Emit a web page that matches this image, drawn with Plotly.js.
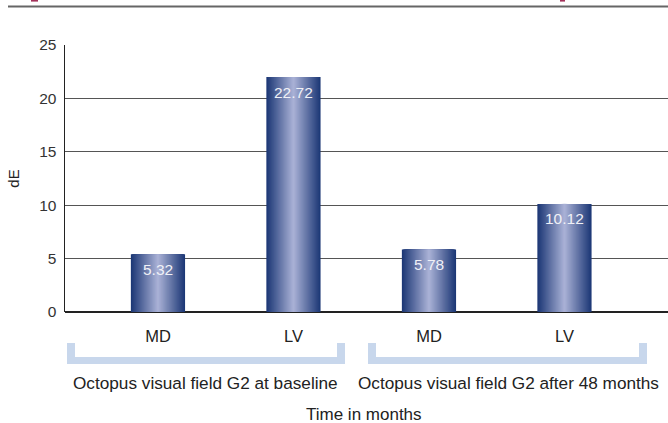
<!DOCTYPE html>
<html>
<head>
<meta charset="utf-8">
<script src="https://cdn.plot.ly/plotly-3.0.1.min.js"></script>
<style>
html,body{margin:0;padding:0;background:#fff;}
#chart{width:668px;height:423px;}
</style>
</head>
<body>
<div id="chart"></div>
<script>
// ---- data ----
const categories = ['MD', 'LV', 'MD', 'LV'];
const values = [5.4, 22.0, 5.85, 10.12];          // bar heights as drawn in the picture
const valueLabels = ['5.32', '22.72', '5.78', '10.12'];
const groupLabels = ['Octopus visual field G2 at baseline', 'Octopus visual field G2 after 48 months'];
const yTicks = [0, 5, 10, 15, 20, 25];
const yTitle = 'dE';
const xTitle = 'Time in months';

// ---- layout constants ----
const W = 668, H = 423;
const M = {l: 65, r: 0, t: 45, b: 111};
const plotW = W - M.l - M.r, plotH = H - M.t - M.b;
const px = x => (x - M.l) / plotW;
const py = y => (H - M.b - y) / plotH;
const FONT = 'Liberation Sans, Arial, sans-serif';

const xs = categories.map((c, i) => i);
const barW = 0.4;

// gradient simulated by overlaid bars of decreasing width
const edge = [29, 56, 118], centre = [168, 176, 213];
const N = 27;
const traces = [];
for (let i = 0; i < N; i++) {
  const t = i / (N - 1);
  const c = edge.map((e, k) => Math.round(e + (centre[k] - e) * t));
  traces.push({
    type: 'bar', x: xs, y: values,
    width: barW * (N - i) / N,
    marker: {color: `rgb(${c[0]},${c[1]},${c[2]})`, line: {width: 0}},
    hoverinfo: 'skip', showlegend: false
  });
}

const bracketColor = '#c8d7ec';
function bracket(x0, x1) {
  const top = 343, bot = 364, th = 7, vw = 8;
  const r = (a, b, c, d) => ({type: 'rect', xref: 'paper', yref: 'paper',
    x0: px(a), x1: px(b), y0: py(d), y1: py(c), fillcolor: bracketColor, line: {width: 0}, layer: 'above'});
  return [r(x0, x0 + vw, top, bot), r(x1 - vw, x1, top, bot), r(x0, x1, bot - th, bot)];
}

const shapes = [
  ...bracket(67, 345), ...bracket(368, 647),
  {type: 'line', xref: 'paper', yref: 'paper', x0: px(8), x1: px(668), y0: py(6.5), y1: py(6.5),
   line: {color: '#666', width: 2}},
  {type: 'line', xref: 'paper', yref: 'paper', x0: px(31), x1: px(38), y0: py(0.8), y1: py(0.8),
   line: {color: '#a3325a', width: 1.6}},
  {type: 'line', xref: 'paper', yref: 'paper', x0: px(560), x1: px(565), y0: py(0.8), y1: py(0.8),
   line: {color: '#a3325a', width: 1.6}}
];

const valueAnnotations = xs.map((x, i) => ({
  xref: 'x', yref: 'y', x: x, y: values[i], text: valueLabels[i],
  showarrow: false, xanchor: 'center', yanchor: 'middle', yshift: -15,
  font: {family: FONT, size: 15.5, color: '#f0f1f7'}
}));

const textAnnotations = [
  {text: groupLabels[0], x: px(205), y: py(383), size: 17.2},
  {text: groupLabels[1], x: px(508), y: py(383), size: 17.2},
  {text: xTitle, x: px(364), y: py(414), size: 17}
].map(a => ({xref: 'paper', yref: 'paper', showarrow: false, text: a.text, x: a.x, y: a.y,
  xanchor: 'center', yanchor: 'middle', font: {family: FONT, size: a.size, color: '#222'}}));

const layout = {
  width: W, height: H,
  margin: M,
  paper_bgcolor: '#fff', plot_bgcolor: '#fff',
  barmode: 'overlay',
  showlegend: false,
  font: {family: FONT, color: '#333'},
  xaxis: {
    range: [-0.686, 3.764], tickvals: xs, ticktext: categories,
    showgrid: false, zeroline: false, showline: false, ticks: '',
    tickfont: {family: FONT, size: 16.5, color: '#222'},
    ticklabelstandoff: 12, fixedrange: true
  },
  yaxis: {
    range: [0, 25], tickvals: yTicks, showgrid: true, gridcolor: '#555', gridwidth: 1.3,
    zeroline: true, zerolinecolor: '#222', zerolinewidth: 2.5,
    showline: true, linecolor: '#222', linewidth: 1.5, ticks: '',
    tickfont: {family: FONT, size: 15.5, color: '#333'}, ticklabelstandoff: 4,
    title: {text: yTitle, font: {family: FONT, size: 15, color: '#222'}, standoff: 16},
    fixedrange: true
  },
  shapes, annotations: valueAnnotations.concat(textAnnotations)
};

Plotly.newPlot('chart', traces, layout, {displayModeBar: false, staticPlot: true});
</script>
</body>
</html>
